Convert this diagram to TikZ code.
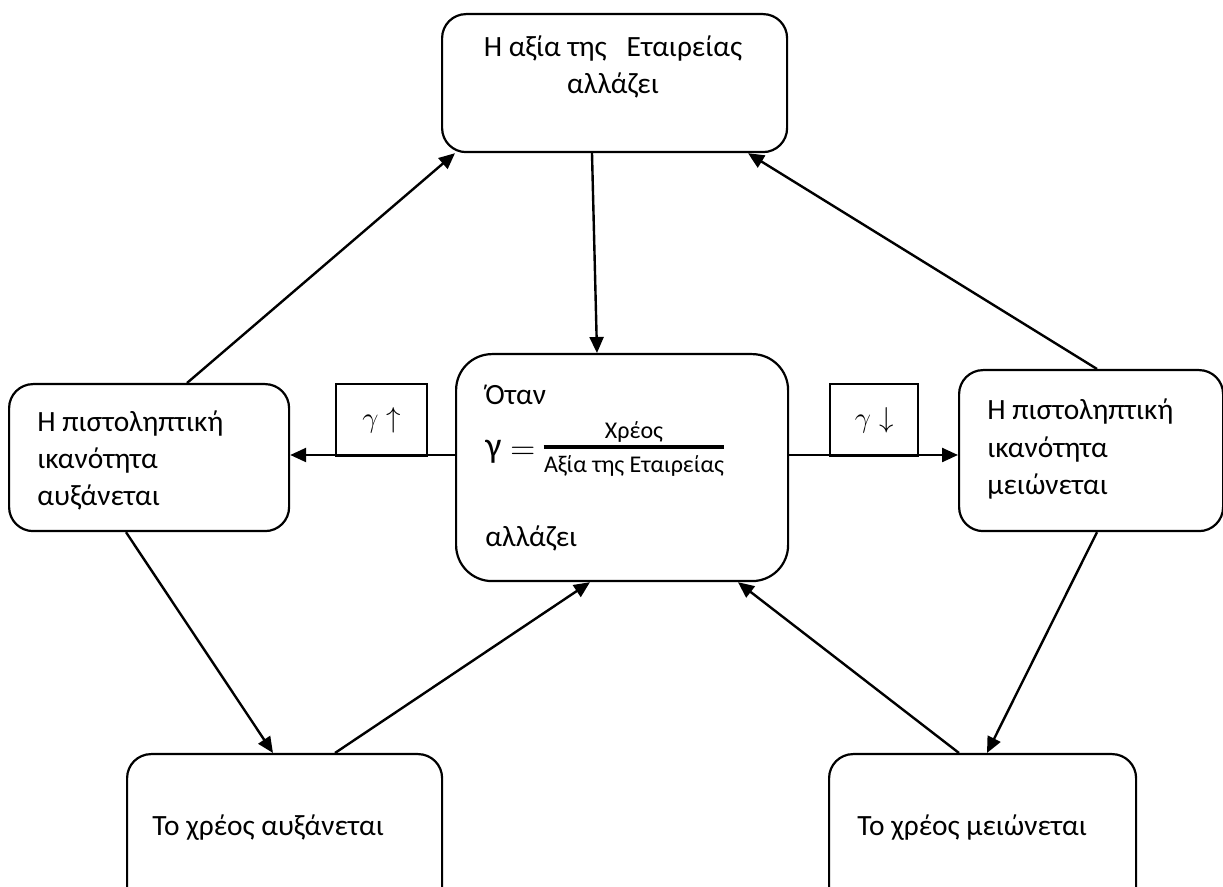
\documentclass[tikz,border=0pt]{standalone}
\usepackage{fontspec}
\setmainfont{Carlito}
\usetikzlibrary{arrows.meta,calc}
\begin{document}
\begin{tikzpicture}[x=0.5pt,y=-0.5pt,
  box/.style={draw,line width=1.1pt,rounded corners=12pt,anchor=north west,inner sep=0pt},
  lbl/.style={anchor=base west,inner sep=0pt,font=\fontsize{14.7}{18}\selectfont},
  clbl/.style={anchor=base,inner sep=0pt,font=\fontsize{14.7}{18}\selectfont},
  flbl/.style={anchor=base,inner sep=0pt,font=\fontsize{12}{14}\selectfont},
  conn/.style={line width=1.2pt,-{Triangle[length=8pt,width=7pt]}},
  tag/.style={draw,line width=1.1pt,anchor=north west,inner sep=0pt,font=\fontsize{15}{17}\selectfont}]
\useasboundingbox (0,0) rectangle (1223,887);
% boxes
\node[box,minimum width=172.5pt,minimum height=69pt] (top) at (441,13) {};
\node[box,rounded corners=18pt,minimum width=166pt,minimum height=113.5pt] (ctr) at (455,353) {};
\node[box,minimum width=140pt,minimum height=73.5pt] (lft) at (8,383) {};
\node[box,minimum width=132pt,minimum height=80.5pt] (rgt) at (958,369) {};
\node[box,minimum width=157.5pt,minimum height=83.5pt] (bl) at (126,753) {};
\node[box,minimum width=153.5pt,minimum height=83.5pt] (br) at (828,753) {};
\node[tag,minimum width=45.5pt,minimum height=36pt] (tagl) at (335,383) {$\gamma\uparrow$};
\node[tag,minimum width=44pt,minimum height=36pt] (tagr) at (829,383) {$\gamma\downarrow$};
% texts
\node[clbl] (t1) at (613,57) {Η αξία της\ \ \ Εταιρείας};
\node[clbl] (t2) at (613,94) {αλλάζει};
\node[lbl] (l1) at (37,432) {Η πιστοληπτική};
\node[lbl] (l2) at (37,469) {ικανότητα};
\node[lbl] (l3) at (37,506) {αυξάνεται};
\node[lbl] (r1) at (987,420) {Η πιστοληπτική};
\node[lbl] (r2) at (987,458) {ικανότητα};
\node[lbl] (r3) at (987,495) {μειώνεται};
\node[lbl] (c1) at (485,405) {Όταν};
\node[lbl] (c2) at (485,547) {αλλάζει};
\node[lbl,font=\fontsize{18}{20}\selectfont] (gam) at (485,458) {γ};
\node[lbl,font=\fontsize{16}{18}\selectfont] (eq) at (510,460) {$=$};
\node[flbl] (num) at (634,439) {Χρέος};
\node[flbl] (den) at (634,473) {Αξία της Εταιρείας};
\coordinate (bary) at (0,447);
\draw[line width=1.6pt] (den.west |- bary) -- (den.east |- bary);
\node[lbl] (b1) at (152,836) {Το χρέος αυξάνεται};
\node[lbl] (b2) at (857,836) {Το χρέος μειώνεται};
% connectors
\draw[conn] ($(top.south west)+(151,0)$) -- ($(ctr.north west)+(142,0)$);
\draw[conn] ($(lft.north west)+(179,0)$) -- ($(top.south west)+(14,0)$);
\draw[conn] ($(rgt.north west)+(139,0)$) -- ($(top.south west)+(307,0)$);
\draw[conn] ($(lft.south west)+(118,0)$) -- ($(bl.north west)+(147,0)$);
\draw[conn] ($(bl.north west)+(209,0)$) -- ($(ctr.south west)+(135,0)$);
\draw[conn] ($(rgt.south west)+(139,0)$) -- ($(br.north west)+(159,0)$);
\draw[conn] ($(br.north west)+(131,0)$) -- ($(ctr.south west)+(283,0)$);
\coordinate (hy) at (0,455);
\draw[conn] (ctr.west |- hy) -- (lft.east |- hy);
\draw[conn] (ctr.east |- hy) -- (rgt.west |- hy);
\end{tikzpicture}
\end{document}
